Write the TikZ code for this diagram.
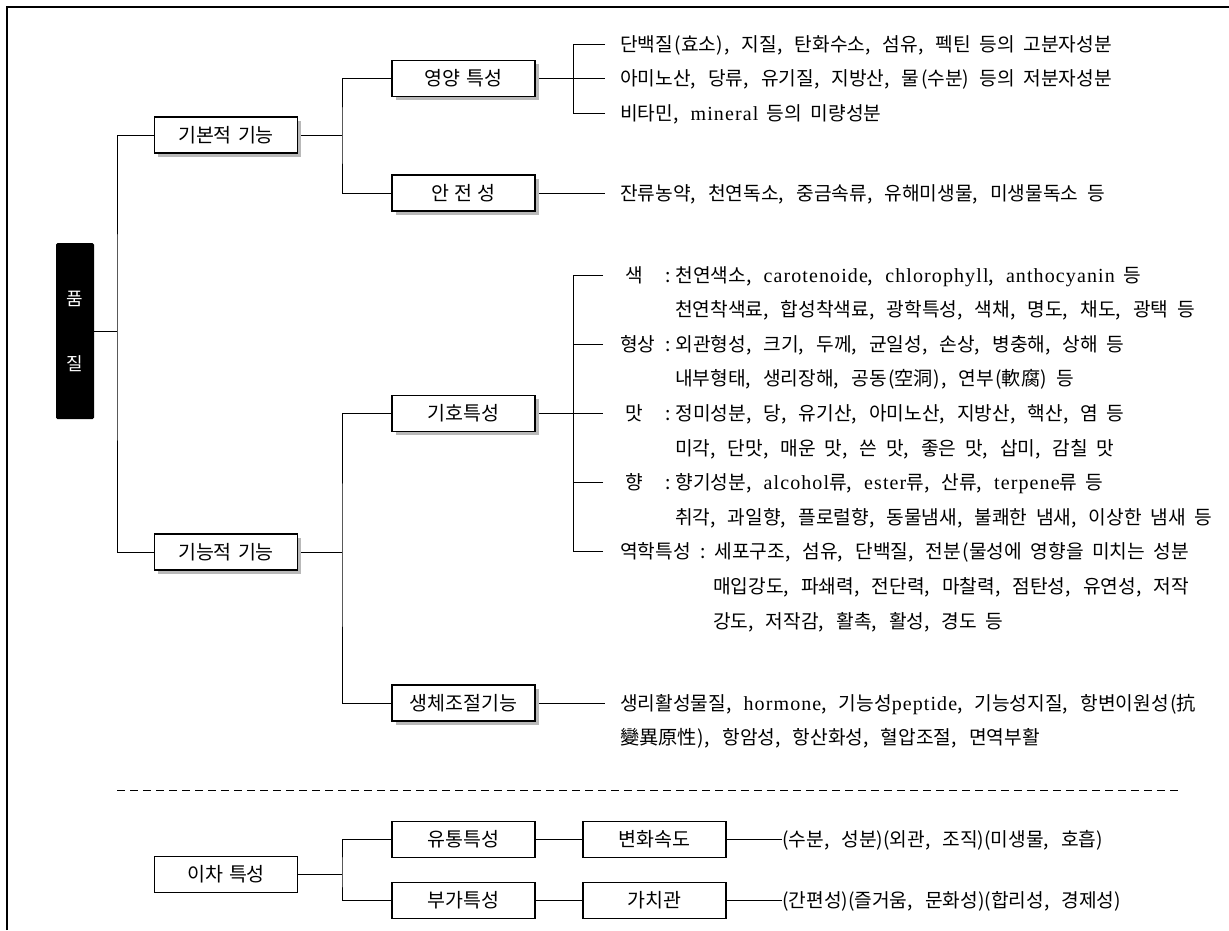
\documentclass[tikz,border=0pt]{standalone}
\usepackage{fontspec}
\setmainfont{Noto Sans CJK KR}[WordSpace=2]
\newfontfamily\boxfont{Noto Sans CJK KR}[WordSpace=1.4]
\newfontfamily\latinf{Liberation Serif}[LetterSpace=5.5]
\newcommand{\Lat}[1]{{\latinf\fontsize{20}{22}\selectfont #1}}
\newcommand{\cm}{,\kern3.5pt\ }
\newcommand{\lp}{\kern1.5pt(}
\newcommand{\rp}{)\kern1.5pt}
\usetikzlibrary{shadows,backgrounds}
\tikzset{
  box/.style={draw, line width=1.1pt, fill=white, minimum width=143pt, minimum height=36pt,
    inner sep=0pt, text height=14pt, text depth=0pt, font=\boxfont\fontsize{19.5}{22}\selectfont},
  sbox/.style={box, drop shadow={shadow xshift=3.5pt, shadow yshift=-3.5pt, fill=gray!55, opacity=1}},
  rt/.style={anchor=west, inner sep=0pt, text height=14pt, text depth=0pt, font=\fontsize{19.2}{22}\selectfont},
  conn/.style={line width=1pt, line join=miter},
  qbox/.style={fill=black, text=white, minimum width=38pt, minimum height=176pt, rounded corners=1.5pt,
    inner sep=0pt, align=center, font=\fontsize{18}{65}\selectfont}
}
\begin{document}
\begin{tikzpicture}[x=1pt,y=-1pt]
\useasboundingbox (0,0) rectangle (1229,930);
% frame
\draw[line width=1.8pt] (7,930) -- (7,7) -- (1229,7);
% root
\node[qbox] (q) at (75,331) {품\\질};
% level 1
\node[sbox] (b1) at (226,135) {기본적 기능};
\node[sbox] (b2) at (226,552) {기능적 기능};
% level 2
\node[sbox] (c1) at (463.5,78.5) {영양 특성};
\node[sbox] (c2) at (463.5,193) {안\hspace{5pt}전\hspace{5pt}성};
\node[sbox] (c3) at (463.5,413.5) {기호특성};
\node[sbox] (c4) at (463.5,703) {생체조절기능};
% texts of 영양 특성
\node[rt] (t11) at (620,44) {단백질\lp 효소\rp\cm 지질\cm 탄화수소\cm 섬유\cm 펙틴 등의 고분자성분};
\node[rt] (t12) at (620,78.5) {아미노산\cm 당류\cm 유기질\cm 지방산\cm 물\lp 수분\rp{} 등의 저분자성분};
\node[rt] (t13) at (620,113) {비타민\cm \Lat{mineral} 등의 미량성분};
\node[rt] (t2) at (620,193) {잔류농약\cm 천연독소\cm 중금속류\cm 유해미생물\cm 미생물독소 등};
% 기호특성 rows
\node[rt] (l0) at (625,275) {색};
\node[rt] (r0) at (665,275) {:\hspace{5pt}천연색소\cm \Lat{carotenoide}\cm \Lat{chlorophyll}\cm \Lat{anthocyanin} 등};
\node[rt] (r1) at (675,309.6) {천연착색료\cm 합성착색료\cm 광학특성\cm 색채\cm 명도\cm 채도\cm 광택 등};
\node[rt] (l2) at (620,344.2) {형상};
\node[rt] (r2) at (665,344.2) {:\hspace{5pt}외관형성\cm 크기\cm 두께\cm 균일성\cm 손상\cm 병충해\cm 상해 등};
\node[rt] (r3) at (675,378.8) {내부형태\cm 생리장해\cm 공동\lp 空洞\rp\cm 연부\lp 軟腐\rp{} 등};
\node[rt] (l4) at (625,413.5) {맛};
\node[rt] (r4) at (665,413.5) {:\hspace{5pt}정미성분\cm 당\cm 유기산\cm 아미노산\cm 지방산\cm 핵산\cm 염 등};
\node[rt] (r5) at (675,448) {미각\cm 단맛\cm 매운 맛\cm 쓴 맛\cm 좋은 맛\cm 삽미\cm 감칠 맛};
\node[rt] (l6) at (625,482.6) {향};
\node[rt] (r6) at (665,482.6) {:\hspace{5pt}향기성분\cm \Lat{alcohol}류\cm \Lat{ester}류\cm 산류\cm \Lat{terpene}류 등};
\node[rt] (r7) at (675,517.2) {취각\cm 과일향\cm 플로럴향\cm 동물냄새\cm 불쾌한 냄새\cm 이상한 냄새 등};
\node[rt] (l8) at (620,551.8) {역학특성};
\node[rt] (r8) at (700,551.8) {:\hspace{9pt}세포구조\cm 섬유\cm 단백질\cm 전분\lp 물성에 영향을 미치는 성분};
\node[rt] (r9) at (713,586.4) {매입강도\cm 파쇄력\cm 전단력\cm 마찰력\cm 점탄성\cm 유연성\cm 저작};
\node[rt] (r10) at (713,621) {강도\cm 저작감\cm 활촉\cm 활성\cm 경도 등};
% 생체조절기능 texts
\node[rt] (t41) at (620,703) {생리활성물질\cm \Lat{hormone}\cm 기능성\Lat{peptide}\cm 기능성지질\cm 항변이원성\lp 抗};
\node[rt] (t42) at (620,737) {變異原性\rp\cm 항암성\cm 항산화성\cm 혈압조절\cm 면역부활};
% separator
\draw[line width=1pt, dash pattern=on 8pt off 5pt] (117,790) -- (1180,790);
% secondary
\node[box] (d0) at (226,874.5) {이차 특성};
\node[box] (d1) at (463.5,839.5) {유통특성};
\node[box] (d2) at (463.5,900.5) {부가특성};
\node[box] (e1) at (654.5,839.5) {변화속도};
\node[box] (e2) at (654.5,900.5) {가치관};
\node[rt] (f1) at (782,839.5) {(수분\cm 성분)(외관\cm 조직)(미생물\cm 호흡)};
\node[rt] (f2) at (782,900.5) {(간편성)(즐거움\cm 문화성)(합리성\cm 경제성)};
% connectors
\coordinate (tr) at (117,331);
\coordinate (j1) at (342,135);
\coordinate (j2) at (342,552);
\coordinate (j3) at (342,874.5);
\coordinate (k1) at (573,78.5);
\coordinate (k2) at (573,413.5);
\begin{scope}[on background layer]
\fill[white] (0,0) rectangle (1229,930);
\draw[conn] (q.east) -- (tr);
\draw[conn] (b1.west) -| (tr) |- (b2.west);
\draw[conn] (b1.east) -- (j1);
\draw[conn] (c1.west) -| (j1) |- (c2.west);
\draw[conn, shorten >=15pt] (c1.east) -- (t12.west);
\draw[conn, shorten <=15pt] (t11.west) -| (k1);
\draw[conn, shorten <=15pt] (t13.west) -| (k1);
\draw[conn, shorten >=15pt] (c2.east) -- (t2.west);
\draw[conn] (b2.east) -- (j2);
\draw[conn] (c3.west) -| (j2) |- (c4.west);
\draw[conn, shorten >=22pt] (c3.east) -- (l4.west);
\draw[conn, shorten <=22pt] (l0.west) -| (k2);
\draw[conn, shorten <=17pt] (l2.west) -- (l2.west -| k2);
\draw[conn, shorten <=22pt] (l6.west) -- (l6.west -| k2);
\draw[conn, shorten <=17pt] (l8.west) -| (k2);
\draw[conn, shorten >=15pt] (c4.east) -- (t41.west);
\draw[conn] (d0.east) -- (j3);
\draw[conn] (d1.west) -| (j3) |- (d2.west);
\draw[conn] (d1.east) -- (e1.west);
\draw[conn] (d2.east) -- (e2.west);
\draw[conn] (e1.east) -- (f1.west);
\draw[conn] (e2.east) -- (f2.west);
\end{scope}
\end{tikzpicture}
\end{document}
